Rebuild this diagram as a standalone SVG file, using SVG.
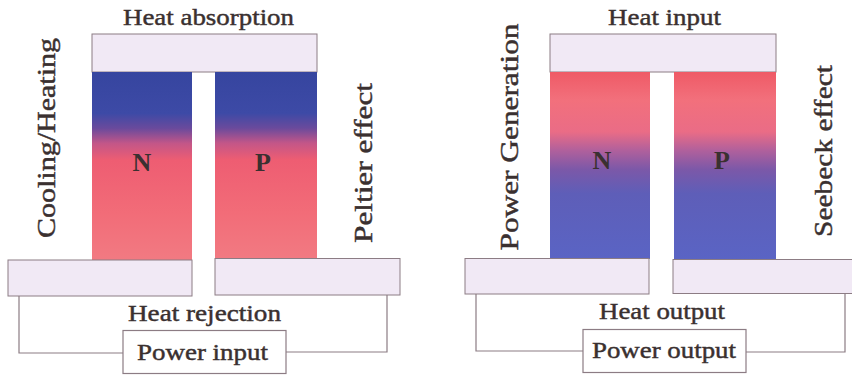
<svg xmlns="http://www.w3.org/2000/svg" width="852" height="376" viewBox="0 0 852 376">
  <style>
    .plate { fill: #f1e9f5; stroke: #8c7c84; stroke-width: 1; }
    .wire { fill: none; stroke: #8c7c84; stroke-width: 1.2; }
    .box { fill: #ffffff; stroke: #8c7c84; stroke-width: 1.2; }
    .lbl { font-family: "Liberation Serif", "Times New Roman", serif; font-size: 24px; fill: #3a3030; stroke: #3a3030; stroke-width: 0.45; }
    .vlbl { font-family: "Liberation Serif", "Times New Roman", serif; font-size: 26px; fill: #3a3030; stroke: #3a3030; stroke-width: 0.45; text-anchor: middle; }
    .leg { font-family: "Liberation Serif", "Times New Roman", serif; font-size: 26px; font-weight: bold; fill: #3a3030; text-anchor: middle; }
  </style>
  <defs>
    <linearGradient id="peltierLeg" x1="0" y1="0" x2="0" y2="1">
      <stop offset="0" stop-color="#36459f"/>
      <stop offset="0.22" stop-color="#3d4aa6"/>
      <stop offset="0.3" stop-color="#6a4a9c"/>
      <stop offset="0.38" stop-color="#c35688"/>
      <stop offset="0.47" stop-color="#ee5d72"/>
      <stop offset="0.75" stop-color="#f26c78"/>
      <stop offset="1" stop-color="#f27a82"/>
    </linearGradient>
    <linearGradient id="seebeckLeg" x1="0" y1="0" x2="0" y2="1">
      <stop offset="0" stop-color="#ef5a66"/>
      <stop offset="0.15" stop-color="#f2707c"/>
      <stop offset="0.32" stop-color="#ea6c86"/>
      <stop offset="0.42" stop-color="#b0609c"/>
      <stop offset="0.52" stop-color="#7c58a8"/>
      <stop offset="0.65" stop-color="#5e5eb8"/>
      <stop offset="1" stop-color="#5a64c4"/>
    </linearGradient>
  </defs>

  <!-- Left: Peltier -->
  <g id="peltier-top-plate">
    <rect class="plate" x="92" y="34" width="225" height="38"/>
    <text class="lbl" x="123" y="25" textLength="171" lengthAdjust="spacingAndGlyphs">Heat absorption</text>
  </g>
  <g id="peltier-n-leg">
    <rect x="92" y="72" width="100" height="188" fill="url(#peltierLeg)"/>
    <text class="leg" x="142" y="171">N</text>
  </g>
  <g id="peltier-p-leg">
    <rect x="215" y="72" width="102" height="187" fill="url(#peltierLeg)"/>
    <text class="leg" x="263" y="171">P</text>
  </g>
  <g id="peltier-bottom-left-plate">
    <rect class="plate" x="8" y="260" width="184" height="36"/>
  </g>
  <g id="peltier-bottom-right-plate">
    <rect class="plate" x="215" y="258.5" width="185" height="36.5"/>
  </g>
  <g id="peltier-heat-rejection">
    <text class="lbl" x="128" y="321" textLength="153" lengthAdjust="spacingAndGlyphs">Heat rejection</text>
  </g>
  <g id="peltier-power-input">
    <rect class="box" x="123" y="330.5" width="163" height="43"/>
    <text class="lbl" x="137" y="360" textLength="131" lengthAdjust="spacingAndGlyphs">Power input</text>
  </g>
  <g id="peltier-side-labels">
    <text class="vlbl" transform="translate(55,138) rotate(-90)" textLength="200" lengthAdjust="spacingAndGlyphs">Cooling/Heating</text>
    <text class="vlbl" transform="translate(372,163) rotate(-90)" textLength="160" lengthAdjust="spacingAndGlyphs">Peltier effect</text>
  </g>

  <!-- Right: Seebeck -->
  <g id="seebeck-top-plate">
    <rect class="plate" x="550" y="34" width="226" height="38"/>
    <text class="lbl" x="608" y="25" textLength="113" lengthAdjust="spacingAndGlyphs">Heat input</text>
  </g>
  <g id="seebeck-n-leg">
    <rect x="550" y="72" width="100" height="187" fill="url(#seebeckLeg)"/>
    <text class="leg" x="602" y="169">N</text>
  </g>
  <g id="seebeck-p-leg">
    <rect x="674" y="72" width="102" height="187" fill="url(#seebeckLeg)"/>
    <text class="leg" x="722" y="169">P</text>
  </g>
  <g id="seebeck-bottom-left-plate">
    <rect class="plate" x="465" y="258.5" width="184" height="35.5"/>
  </g>
  <g id="seebeck-bottom-right-plate">
    <rect class="plate" x="673" y="259.5" width="190" height="34"/>
  </g>
  <g id="seebeck-heat-output">
    <text class="lbl" x="599" y="319" textLength="126" lengthAdjust="spacingAndGlyphs">Heat output</text>
  </g>
  <g id="seebeck-power-output">
    <rect class="box" x="583" y="329.5" width="163" height="43"/>
    <text class="lbl" x="592" y="358" textLength="144" lengthAdjust="spacingAndGlyphs">Power output</text>
  </g>
  <g id="seebeck-side-labels">
    <text class="vlbl" transform="translate(518,137) rotate(-90)" textLength="227" lengthAdjust="spacingAndGlyphs">Power Generation</text>
    <text class="vlbl" transform="translate(832,151) rotate(-90)" textLength="172" lengthAdjust="spacingAndGlyphs">Seebeck effect</text>
  </g>

  <g id="connectors">
    <polyline class="wire" points="19,296 19,353 123,353"/>
    <polyline class="wire" points="387,295 387,352 286,352"/>
    <polyline class="wire" points="476,294 476,351 583,351"/>
    <polyline class="wire" points="845,293.5 845,352 746,352"/>
  </g>
</svg>
